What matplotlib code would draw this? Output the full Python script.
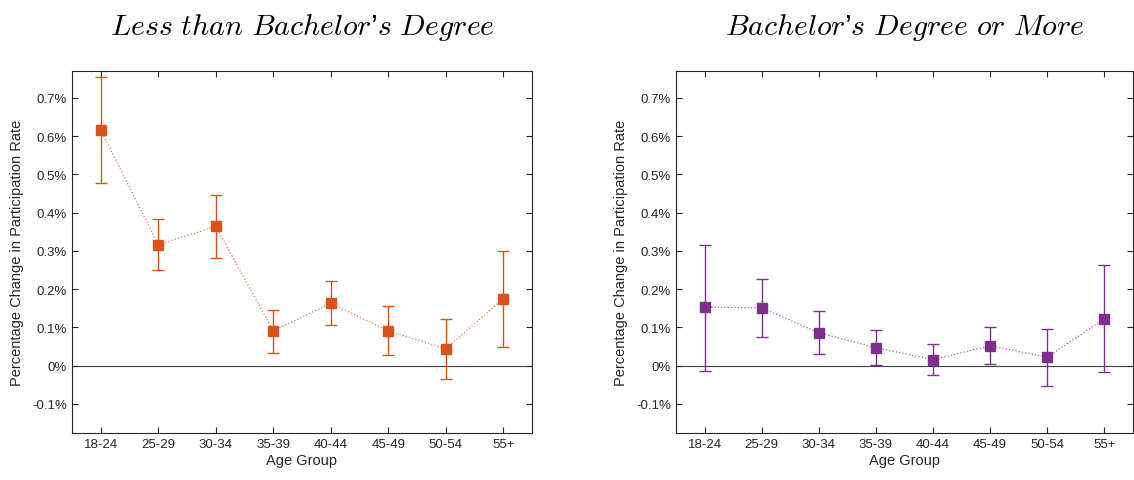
import matplotlib
matplotlib.use("Agg")
import matplotlib.pyplot as plt
from matplotlib.ticker import FuncFormatter
import numpy as np

plt.rcParams['font.family'] = ['Liberation Sans', 'DejaVu Sans']
plt.rcParams['mathtext.fontset'] = 'cm'

age_groups = ["18-24", "25-29", "30-34", "35-39", "40-44", "45-49", "50-54", "55+"]

less_mean = [0.616, 0.316, 0.364, 0.091, 0.163, 0.091, 0.044, 0.175]
less_upper = [0.755, 0.382, 0.446, 0.146, 0.220, 0.157, 0.122, 0.300]
less_lower = [0.478, 0.251, 0.282, 0.034, 0.107, 0.028, -0.034, 0.050]

ba_mean = [0.153, 0.151, 0.086, 0.047, 0.016, 0.052, 0.022, 0.123]
ba_upper = [0.316, 0.227, 0.144, 0.094, 0.057, 0.101, 0.097, 0.262]
ba_lower = [-0.013, 0.076, 0.031, 0.003, -0.024, 0.005, -0.053, -0.017]

yticks = [-0.1, 0, 0.1, 0.2, 0.3, 0.4, 0.5, 0.6, 0.7]

panels = [
    ("Less than Bachelor", less_mean, less_upper, less_lower, "#D95319",
     [0.0635, 0.0977, 0.4056, 0.7526]),
    ("Bachelor", ba_mean, ba_upper, ba_lower, "#7E2F8E",
     [0.5961, 0.0977, 0.4030, 0.7526]),
]
titles = [r"$\mathit{Less\ than\ Bachelor}$’$\mathit{s\ Degree}$",
          r"$\mathit{Bachelor}$’$\mathit{s\ Degree\ or\ More}$"]

fig = plt.figure(figsize=(11.34, 4.81), dpi=100)
axcol = "#262626"
for (name, m, up, lo, col, pos), title in zip(panels, titles):
    ax = fig.add_axes(pos)
    x = np.arange(1, len(age_groups) + 1)
    m = np.array(m); up = np.array(up); lo = np.array(lo)
    ax.axhline(0, color="#404040", lw=0.8, zorder=1)
    ax.plot(x, m, linestyle=":", color=col, lw=0.9, alpha=0.75, zorder=2)
    ax.errorbar(x, m, yerr=[m - lo, up - m], fmt="s", color=col,
                ecolor=col, elinewidth=1.0, capsize=4.5, capthick=1.0,
                markersize=6.5, zorder=3)
    ax.set_xlim(0.5, 8.5)
    ax.set_ylim(-0.176, 0.77)
    ax.set_xticks(x)
    ax.set_xticklabels(age_groups)
    ax.set_yticks(yticks)
    ax.yaxis.set_major_formatter(FuncFormatter(lambda v, p: f"{v:g}%" if abs(v) > 1e-9 else "0%"))
    ax.tick_params(direction="in", top=True, right=True, length=4,
                   labelsize=9.5, colors=axcol, width=0.8)
    for s in ax.spines.values():
        s.set_color(axcol)
        s.set_linewidth(0.8)
    ax.set_xlabel("Age Group", fontsize=10.5, color=axcol, labelpad=2)
    ax.set_ylabel("Percentage Change in Participation Rate", fontsize=10.5,
                  color=axcol, labelpad=6)
    ax.set_title(title, fontsize=21.5, pad=27)

fig.savefig("out.png", dpi=100)
